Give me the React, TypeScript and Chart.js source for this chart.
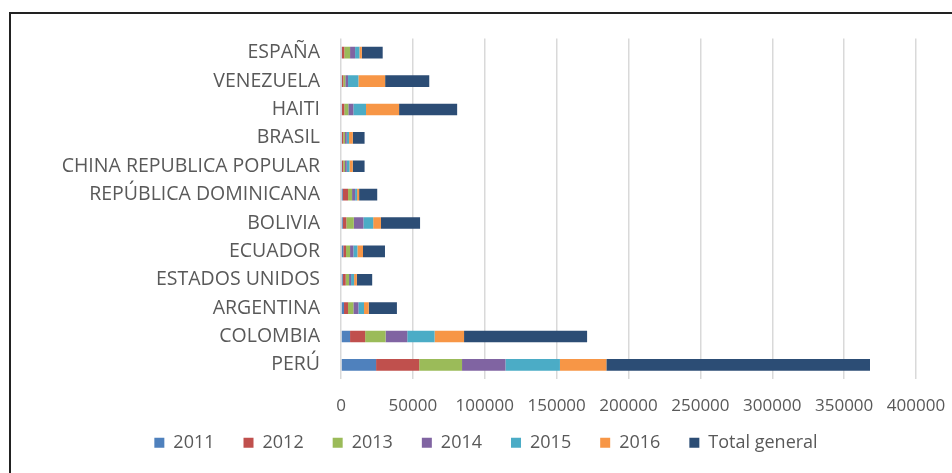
import React, { useEffect, useRef } from "react";
import { Chart, registerables } from "chart.js";

Chart.register(...registerables);

const categories = [
  "ESPAÑA",
  "VENEZUELA",
  "HAITI",
  "BRASIL",
  "CHINA REPUBLICA POPULAR",
  "REPÚBLICA DOMINICANA",
  "BOLIVIA",
  "ECUADOR",
  "ESTADOS UNIDOS",
  "ARGENTINA",
  "COLOMBIA",
  "PERÚ",
];

const y2011 = [700, 700, 700, 700, 700, 1200, 1200, 1600, 1200, 2100, 6300, 24400];
const y2012 = [1600, 900, 1600, 900, 900, 3700, 2500, 1900, 2100, 2800, 10500, 30000];
const y2013 = [4000, 1400, 2800, 1200, 1200, 2800, 5200, 2800, 2300, 3700, 14200, 29800];
const y2014 = [3500, 1900, 3500, 1200, 1200, 2100, 6700, 2300, 1400, 3500, 15100, 30200];
const y2015 = [3000, 7200, 8800, 1600, 1900, 1400, 6800, 2800, 2100, 3900, 19000, 37900];
const y2016 = [1700, 18600, 23000, 2600, 2300, 1400, 5400, 3900, 1900, 3300, 20500, 32300];
const totalGeneral = [14500, 30700, 40400, 8200, 8200, 12600, 27200, 15300, 10700, 19600, 85600, 183400];

const seriesNames = ["2011", "2012", "2013", "2014", "2015", "2016", "Total general"];
const seriesValues = [y2011, y2012, y2013, y2014, y2015, y2016, totalGeneral];
const seriesColors = ["#4F81BD", "#C0504D", "#9BBB59", "#8064A2", "#4BACC6", "#F79646", "#2C4D75"];

const FONT = "'Open Sans', 'Noto Sans', sans-serif";
const TEXT = "#595959";

export default function App() {
  const ref = useRef<HTMLCanvasElement | null>(null);

  useEffect(() => {
    if (!ref.current) return;
    const chart = new Chart(ref.current, {
      type: "bar",
      data: {
        labels: categories,
        datasets: seriesNames.map((name, i) => ({
          label: name,
          data: seriesValues[i],
          backgroundColor: seriesColors[i],
          borderWidth: 0,
          categoryPercentage: 1,
          barPercentage: 0.41,
        })),
      },
      options: {
        indexAxis: "y",
        animation: false,
        responsive: true,
        maintainAspectRatio: false,
        layout: { padding: { top: 38.5, right: 0, bottom: 11.2, left: 20 } },
        plugins: {
          tooltip: { enabled: false },
          legend: {
            position: "bottom",
            labels: {
              boxWidth: 10,
              boxHeight: 10,
              padding: 29,
              color: TEXT,
              font: { family: FONT, size: 18 },
            },
          },
        },
        scales: {
          x: {
            stacked: true,
            min: 0,
            max: 400000,
            ticks: {
              stepSize: 50000,
              color: TEXT,
              padding: 17,
              font: { family: FONT, size: 17 },
              maxRotation: 0,
              callback: (v: any) => String(v),
            },
            grid: { color: "#D9D9D9", lineWidth: 1.5, drawTicks: false },
            border: { display: false },
            afterFit: (s: any) => {
              s.height = 25.7;
              s.paddingRight = 36;
              s._computeLabelArea = () => ({
                top: 0,
                left: 0,
                bottom: s.chart.height,
                right: s.chart.width,
              });
            },
          },
          y: {
            stacked: true,
            ticks: {
              color: TEXT,
              padding: 21,
              font: { family: FONT, size: 19.5 },
              autoSkip: false,
            },
            grid: { display: false, drawTicks: false },
            border: { display: false },
            afterFit: (s: any) => {
              s.width = 321;
            },
          },
        },
      },
    });
    return () => chart.destroy();
  }, []);

  return (
    <div style={{ position: "fixed", left: 0, top: 0, width: 952, height: 473, background: "#fff" }}>
      <div
        style={{
          position: "absolute",
          left: 9,
          top: 12,
          width: 960,
          height: 480,
          borderLeft: "2px solid #222",
          borderTop: "2px solid #222",
          boxSizing: "border-box",
        }}
      />
      <div style={{ position: "absolute", left: 0, top: 0, width: 952, height: 473 }}>
        <canvas ref={ref} />
      </div>
    </div>
  );
}
